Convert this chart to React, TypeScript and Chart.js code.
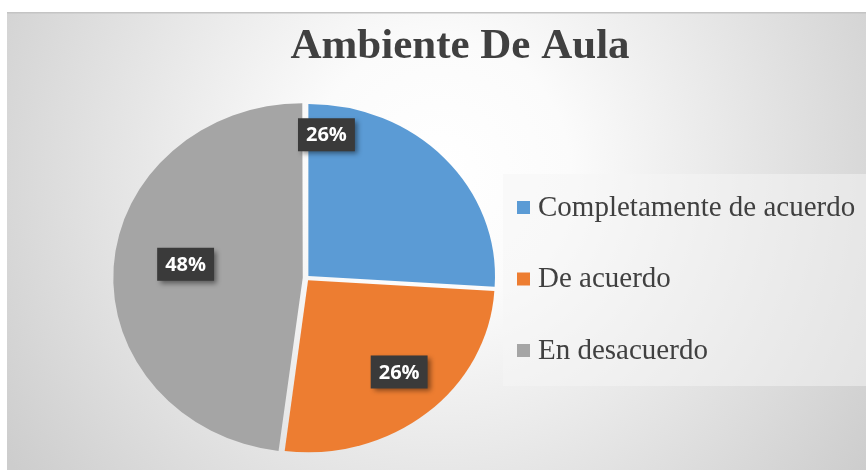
import React, { useEffect, useRef } from "react";
import { Chart, registerables } from "chart.js";

Chart.register(...registerables);

const chartTitle = "Ambiente De Aula";
const categories = ["Completamente de acuerdo", "De acuerdo", "En desacuerdo"];
const values = [26, 26, 48];
const colors = ["#5B9BD5", "#ED7D31", "#A5A5A5"];

// label placement inside each slice (fraction of slice sweep, fraction of radius)
const labelAngleFrac = [0.08, 0.47, 0.52];
const labelRadiusFrac = [0.84, 0.74, 0.65];

const W = 866;
const H = 470;
const PIE_CX = 306;
const PIE_R = 172;
const STRETCH_X = 1.085;

const backgroundPlugin = {
  id: "bgPlugin",
  beforeDraw(chart: any) {
    const ctx = chart.ctx as CanvasRenderingContext2D;
    ctx.save();
    ctx.fillStyle = "#ffffff";
    ctx.fillRect(0, 0, W, H);
    const g = ctx.createRadialGradient(440, 170, 0, 440, 170, 520);
    g.addColorStop(0, "#ffffff");
    g.addColorStop(0.25, "#fbfbfb");
    g.addColorStop(1, "#cdcdcd");
    ctx.fillStyle = g;
    ctx.fillRect(7, 12, W - 7, H - 12);
    ctx.fillStyle = "#c4c4c4";
    ctx.fillRect(7, 12, W - 7, 1.5);

    // title
    ctx.fillStyle = "#404040";
    ctx.font = "bold 43px 'Liberation Serif', 'Times New Roman', serif";
    ctx.textAlign = "center";
    ctx.textBaseline = "alphabetic";
    ctx.fillText(chartTitle, 460, 58);

    // legend box
    ctx.fillStyle = "rgba(246,246,246,0.5)";
    ctx.fillRect(503, 174, W - 503, 212);

    // legend items
    ctx.font = "29px 'Liberation Serif', 'Times New Roman', serif";
    ctx.textAlign = "left";
    categories.forEach((c, i) => {
      const cy = 207.5 + i * 71.5;
      ctx.fillStyle = colors[i];
      ctx.fillRect(517, cy - 6.5, 13, 13);
      ctx.fillStyle = "#404040";
      ctx.fillText(c, 538, cy + 8);
    });
    ctx.restore();
  },
};

const piePlugin = {
  id: "piePlugin",
  beforeDatasetsDraw(chart: any) {
    const ctx = chart.ctx as CanvasRenderingContext2D;
    ctx.save();
    ctx.translate(PIE_CX, 0);
    ctx.scale(STRETCH_X, 1);
    ctx.translate(-PIE_CX, 0);
  },
  afterDatasetsDraw(chart: any) {
    const ctx = chart.ctx as CanvasRenderingContext2D;
    ctx.restore();
    const meta = chart.getDatasetMeta(0);
    const total = values.reduce((a, b) => a + b, 0);
    ctx.save();
    ctx.font = "bold 20px 'Open Sans', 'Liberation Sans', sans-serif";
    ctx.textAlign = "center";
    ctx.textBaseline = "middle";
    meta.data.forEach((arc: any, i: number) => {
      const p = arc.getProps(["x", "y", "startAngle", "endAngle", "outerRadius"], true);
      const a = p.startAngle + labelAngleFrac[i] * (p.endAngle - p.startAngle);
      const r = labelRadiusFrac[i] * p.outerRadius;
      const x = p.x + Math.cos(a) * r * STRETCH_X;
      const y = p.y + Math.sin(a) * r;
      const text = Math.round((values[i] / total) * 100) + "%";
      const tw = ctx.measureText(text).width;
      const bw = tw + 16;
      const bh = 33;
      ctx.save();
      ctx.shadowColor = "rgba(0,0,0,0.45)";
      ctx.shadowBlur = 5;
      ctx.shadowOffsetX = 3;
      ctx.shadowOffsetY = 3;
      ctx.fillStyle = "#3a3a3a";
      ctx.fillRect(x - bw / 2, y - bh / 2, bw, bh);
      ctx.restore();
      ctx.fillStyle = "#ffffff";
      ctx.fillText(text, x, y + 1);
    });
    ctx.restore();
  },
};

export default function App() {
  const ref = useRef<HTMLCanvasElement | null>(null);
  useEffect(() => {
    if (!ref.current) return;
    const chart = new Chart(ref.current, {
      type: "pie",
      data: {
        labels: categories,
        datasets: [
          {
            data: values,
            backgroundColor: colors,
            borderWidth: 0,
            offset: 12,
            hoverOffset: 0,
          },
        ],
      },
      options: {
        responsive: false,
        animation: false,
        devicePixelRatio: 1,
        radius: PIE_R,
        layout: {
          padding: {
            left: PIE_CX - PIE_R,
            right: W - (PIE_CX + PIE_R),
            top: 278 - PIE_R,
            bottom: H - (278 + PIE_R),
          },
        },
        plugins: {
          legend: { display: false },
          title: { display: false },
          tooltip: { enabled: false },
        },
      } as any,
      plugins: [backgroundPlugin, piePlugin],
    });
    return () => chart.destroy();
  }, []);
  return (
    <div style={{ position: "absolute", left: 0, top: 0, width: W, height: H }}>
      <canvas ref={ref} width={W} height={H} style={{ display: "block" }} />
    </div>
  );
}
